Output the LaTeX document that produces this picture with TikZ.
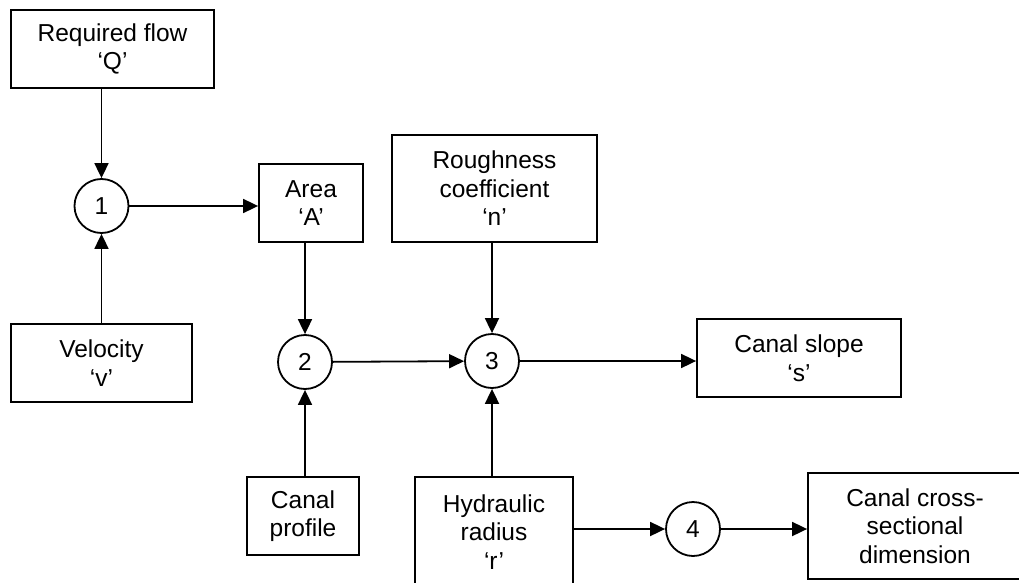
\documentclass[tikz,border=0pt]{standalone}
\usepackage{fontspec}
\setmainfont{Liberation Sans}
\usetikzlibrary{arrows.meta}
\begin{document}
\begin{tikzpicture}[x=1pt,y=-1pt,
  box/.style={draw,line width=1.8pt,rectangle,inner sep=0pt,align=center,font=\fontsize{24.5}{28.5}\selectfont},
  circ/.style={draw,line width=1.8pt,circle,minimum size=54pt,inner sep=0pt,font=\fontsize{24.5}{28.5}\selectfont},
  arr/.style={line width=1.8pt,-{Triangle[length=15pt,width=14pt]}}]
\useasboundingbox (0,0) rectangle (1019,583);
\clip (0,0) rectangle (1019,583);
\node[box,minimum width=203pt,minimum height=78pt] (reqQ) at (112.5,49) {Required flow\\`Q'};
\node[circ] (c1) at (101.5,206) {1};
\node[box,minimum width=104pt,minimum height=78pt] (area) at (311,203) {Area\\`A'};
\node[box,minimum width=181pt,minimum height=78pt] (vel) at (101.5,363) {Velocity\\`v'};
\node[circ] (c2) at (305,362) {2};
\node[box,minimum width=112pt,minimum height=78pt] (prof) at (303,516) {Canal\\profile};
\node[box,minimum width=205pt,minimum height=107pt] (rough) at (494.5,188.5) {Roughness\\coefficient\\`n'};
\node[circ] (c3) at (492,361) {3};
\node[box,minimum width=204pt,minimum height=78pt] (slope) at (799,358) {Canal slope\\`s'};
\node[box,minimum width=158pt,minimum height=110pt] (hyd) at (494,532) {Hydraulic\\radius\\`r'};
\node[circ] (c4) at (693,529) {4};
\node[box,minimum width=214pt,minimum height=106pt] (cross) at (915,526) {Canal cross-\\sectional\\dimension};
\draw[arr] (reqQ.south -| c1) -- (c1);
\draw[arr] (vel.north -| c1) -- (c1);
\draw[arr] (c1.east) -- (c1.east -| area.west);
\draw[arr] (area.south -| c2) -- (c2);
\draw[arr] (prof.north -| c2) -- (c2);
\draw[arr] (c2) -- (c3);
\draw[arr] (rough.south -| c3) -- (c3);
\draw[arr] (hyd.north -| c3) -- (c3);
\draw[arr] (c3.east) -- (c3.east -| slope.west);
\draw[arr] (hyd.east |- c4) -- (c4);
\draw[arr] (c4.east) -- (c4.east -| cross.west);
\end{tikzpicture}
\end{document}
